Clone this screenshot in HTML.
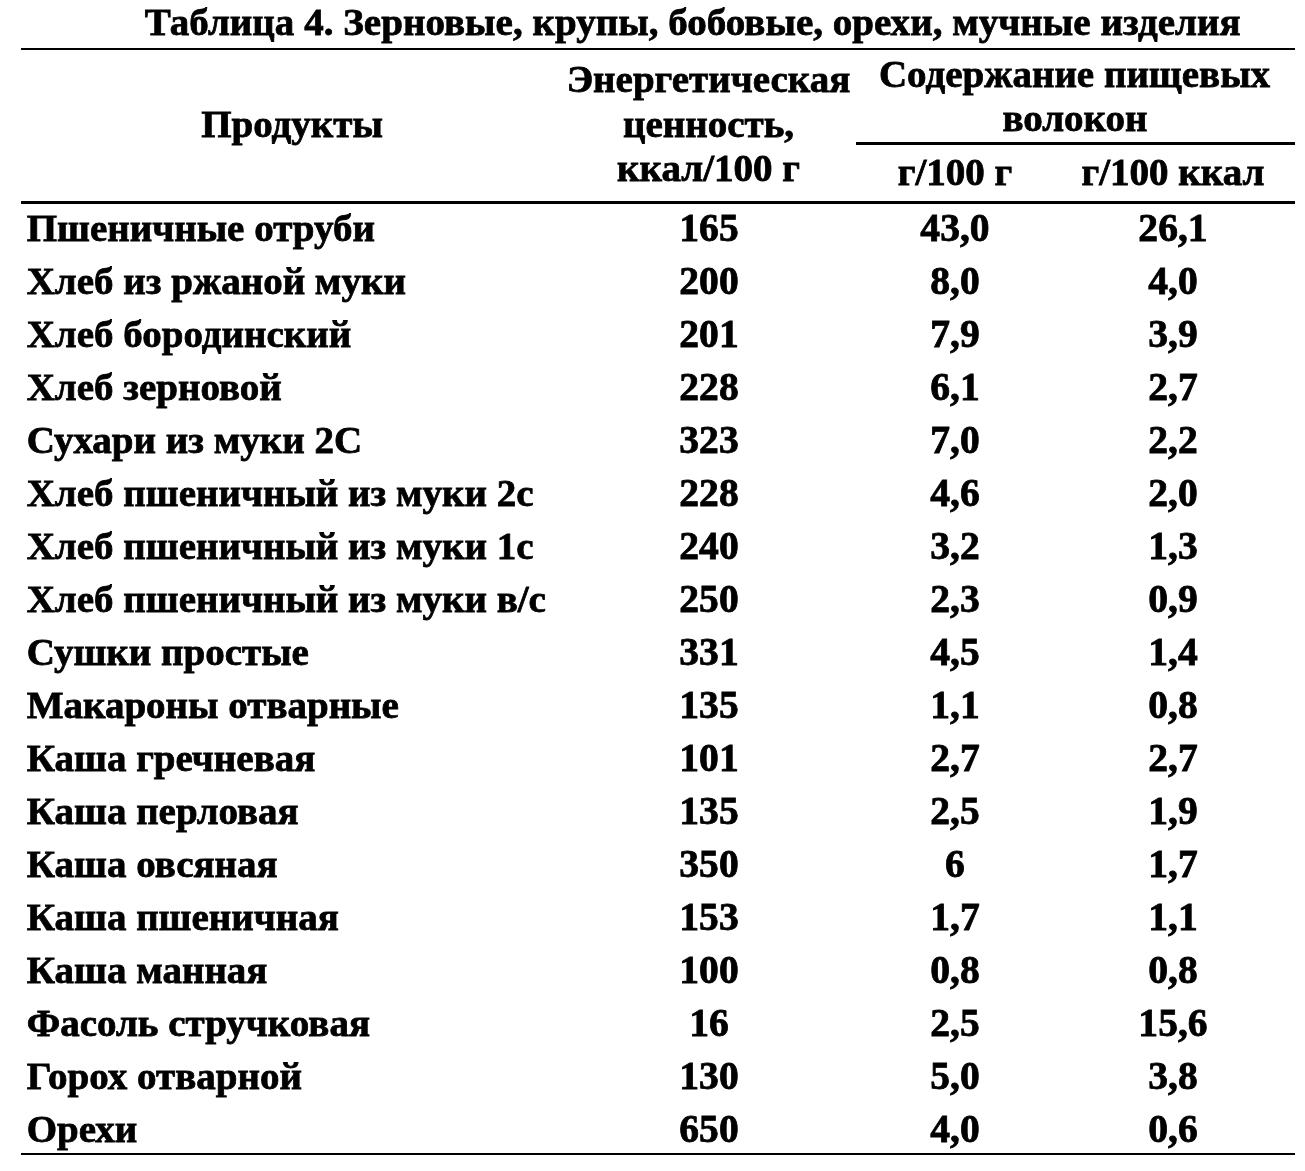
<!DOCTYPE html>
<html lang="ru">
<head>
<meta charset="utf-8">
<title>Таблица 4</title>
<style>
html,body{margin:0;padding:0;background:#fff;}
body{width:1305px;height:1171px;position:relative;overflow:hidden;font-family:"Liberation Serif","Times New Roman",serif;font-weight:bold;color:#000;}
.t{position:absolute;white-space:nowrap;line-height:50px;height:50px;font-size:39.0px;-webkit-text-stroke:0.8px #000;}
.c{text-align:center;width:1600px;margin-left:-800px;}
.r{position:absolute;background:#000;}
</style>
</head>
<body>
<div class="r" style="left:21px;top:48px;width:1274px;height:2px"></div>
<div class="r" style="left:856px;top:142px;width:439px;height:3px"></div>
<div class="r" style="left:21px;top:201px;width:1274px;height:3px"></div>
<div class="r" style="left:21px;top:1153px;width:1274px;height:2px"></div>
<div class="t c" style="left:692.70px;top:-3.26px;transform:scale(1.0,0.97);transform-origin:center 38.16px;letter-spacing:0.03px;">Таблица 4. Зерновые, крупы, бобовые, орехи, мучные изделия</div>
<div class="t c" style="left:292.00px;top:99.34px;transform:scale(1.0,0.97);transform-origin:center 38.16px;">Продукты</div>
<div class="t c" style="left:708.50px;top:53.84px;transform:scale(1.0,0.97);transform-origin:center 38.16px;">Энергетическая</div>
<div class="t c" style="left:708.50px;top:98.84px;transform:scale(1.0,0.97);transform-origin:center 38.16px;">ценность,</div>
<div class="t c" style="left:708.50px;top:142.84px;transform:scale(1.0,0.97);transform-origin:center 38.16px;">ккал/100 г</div>
<div class="t c" style="left:1074.50px;top:49.34px;transform:scale(1.0,0.97);transform-origin:center 38.16px;">Содержание пищевых</div>
<div class="t c" style="left:1075.00px;top:93.09px;transform:scale(1.0,0.97);transform-origin:center 38.16px;">волокон</div>
<div class="t c" style="left:955.00px;top:147.34px;transform:scale(1.0,0.97);transform-origin:center 38.16px;">г/100 г</div>
<div class="t c" style="left:1173.00px;top:147.34px;transform:scale(1.0,0.97);transform-origin:center 38.16px;">г/100 ккал</div>
<div class="t" style="left:26.70px;top:202.84px;transform:scale(1.0,0.97);transform-origin:left 38.16px;">Пшеничные отруби</div>
<div class="t c" style="left:708.50px;top:202.84px;transform:scale(1.015,1.02);transform-origin:center 38.16px;">165</div>
<div class="t c" style="left:955.00px;top:202.84px;transform:scale(1.015,1.02);transform-origin:center 38.16px;">43,0</div>
<div class="t c" style="left:1173.00px;top:202.84px;transform:scale(1.015,1.02);transform-origin:center 38.16px;">26,1</div>
<div class="t" style="left:26.70px;top:255.86px;transform:scale(1.0,0.97);transform-origin:left 38.16px;">Хлеб из ржаной муки</div>
<div class="t c" style="left:708.50px;top:255.86px;transform:scale(1.015,1.02);transform-origin:center 38.16px;">200</div>
<div class="t c" style="left:955.00px;top:255.86px;transform:scale(1.015,1.02);transform-origin:center 38.16px;">8,0</div>
<div class="t c" style="left:1173.00px;top:255.86px;transform:scale(1.015,1.02);transform-origin:center 38.16px;">4,0</div>
<div class="t" style="left:26.70px;top:308.88px;transform:scale(1.0,0.97);transform-origin:left 38.16px;">Хлеб бородинский</div>
<div class="t c" style="left:708.50px;top:308.88px;transform:scale(1.015,1.02);transform-origin:center 38.16px;">201</div>
<div class="t c" style="left:955.00px;top:308.88px;transform:scale(1.015,1.02);transform-origin:center 38.16px;">7,9</div>
<div class="t c" style="left:1173.00px;top:308.88px;transform:scale(1.015,1.02);transform-origin:center 38.16px;">3,9</div>
<div class="t" style="left:26.70px;top:361.91px;transform:scale(1.0,0.97);transform-origin:left 38.16px;">Хлеб зерновой</div>
<div class="t c" style="left:708.50px;top:361.91px;transform:scale(1.015,1.02);transform-origin:center 38.16px;">228</div>
<div class="t c" style="left:955.00px;top:361.91px;transform:scale(1.015,1.02);transform-origin:center 38.16px;">6,1</div>
<div class="t c" style="left:1173.00px;top:361.91px;transform:scale(1.015,1.02);transform-origin:center 38.16px;">2,7</div>
<div class="t" style="left:26.70px;top:414.93px;transform:scale(1.0,0.97);transform-origin:left 38.16px;">Сухари из муки 2С</div>
<div class="t c" style="left:708.50px;top:414.93px;transform:scale(1.015,1.02);transform-origin:center 38.16px;">323</div>
<div class="t c" style="left:955.00px;top:414.93px;transform:scale(1.015,1.02);transform-origin:center 38.16px;">7,0</div>
<div class="t c" style="left:1173.00px;top:414.93px;transform:scale(1.015,1.02);transform-origin:center 38.16px;">2,2</div>
<div class="t" style="left:26.70px;top:467.96px;transform:scale(1.0,0.97);transform-origin:left 38.16px;">Хлеб пшеничный из муки 2с</div>
<div class="t c" style="left:708.50px;top:467.96px;transform:scale(1.015,1.02);transform-origin:center 38.16px;">228</div>
<div class="t c" style="left:955.00px;top:467.96px;transform:scale(1.015,1.02);transform-origin:center 38.16px;">4,6</div>
<div class="t c" style="left:1173.00px;top:467.96px;transform:scale(1.015,1.02);transform-origin:center 38.16px;">2,0</div>
<div class="t" style="left:26.70px;top:520.98px;transform:scale(1.0,0.97);transform-origin:left 38.16px;">Хлеб пшеничный из муки 1с</div>
<div class="t c" style="left:708.50px;top:520.98px;transform:scale(1.015,1.02);transform-origin:center 38.16px;">240</div>
<div class="t c" style="left:955.00px;top:520.98px;transform:scale(1.015,1.02);transform-origin:center 38.16px;">3,2</div>
<div class="t c" style="left:1173.00px;top:520.98px;transform:scale(1.015,1.02);transform-origin:center 38.16px;">1,3</div>
<div class="t" style="left:26.70px;top:574.00px;transform:scale(1.0,0.97);transform-origin:left 38.16px;">Хлеб пшеничный из муки в/с</div>
<div class="t c" style="left:708.50px;top:574.00px;transform:scale(1.015,1.02);transform-origin:center 38.16px;">250</div>
<div class="t c" style="left:955.00px;top:574.00px;transform:scale(1.015,1.02);transform-origin:center 38.16px;">2,3</div>
<div class="t c" style="left:1173.00px;top:574.00px;transform:scale(1.015,1.02);transform-origin:center 38.16px;">0,9</div>
<div class="t" style="left:26.70px;top:627.03px;transform:scale(1.0,0.97);transform-origin:left 38.16px;">Сушки простые</div>
<div class="t c" style="left:708.50px;top:627.03px;transform:scale(1.015,1.02);transform-origin:center 38.16px;">331</div>
<div class="t c" style="left:955.00px;top:627.03px;transform:scale(1.015,1.02);transform-origin:center 38.16px;">4,5</div>
<div class="t c" style="left:1173.00px;top:627.03px;transform:scale(1.015,1.02);transform-origin:center 38.16px;">1,4</div>
<div class="t" style="left:26.70px;top:680.05px;transform:scale(1.0,0.97);transform-origin:left 38.16px;">Макароны отварные</div>
<div class="t c" style="left:708.50px;top:680.05px;transform:scale(1.015,1.02);transform-origin:center 38.16px;">135</div>
<div class="t c" style="left:955.00px;top:680.05px;transform:scale(1.015,1.02);transform-origin:center 38.16px;">1,1</div>
<div class="t c" style="left:1173.00px;top:680.05px;transform:scale(1.015,1.02);transform-origin:center 38.16px;">0,8</div>
<div class="t" style="left:26.70px;top:733.07px;transform:scale(1.0,0.97);transform-origin:left 38.16px;">Каша гречневая</div>
<div class="t c" style="left:708.50px;top:733.07px;transform:scale(1.015,1.02);transform-origin:center 38.16px;">101</div>
<div class="t c" style="left:955.00px;top:733.07px;transform:scale(1.015,1.02);transform-origin:center 38.16px;">2,7</div>
<div class="t c" style="left:1173.00px;top:733.07px;transform:scale(1.015,1.02);transform-origin:center 38.16px;">2,7</div>
<div class="t" style="left:26.70px;top:786.10px;transform:scale(1.0,0.97);transform-origin:left 38.16px;">Каша перловая</div>
<div class="t c" style="left:708.50px;top:786.10px;transform:scale(1.015,1.02);transform-origin:center 38.16px;">135</div>
<div class="t c" style="left:955.00px;top:786.10px;transform:scale(1.015,1.02);transform-origin:center 38.16px;">2,5</div>
<div class="t c" style="left:1173.00px;top:786.10px;transform:scale(1.015,1.02);transform-origin:center 38.16px;">1,9</div>
<div class="t" style="left:26.70px;top:839.12px;transform:scale(1.0,0.97);transform-origin:left 38.16px;">Каша овсяная</div>
<div class="t c" style="left:708.50px;top:839.12px;transform:scale(1.015,1.02);transform-origin:center 38.16px;">350</div>
<div class="t c" style="left:955.00px;top:839.12px;transform:scale(1.015,1.02);transform-origin:center 38.16px;">6</div>
<div class="t c" style="left:1173.00px;top:839.12px;transform:scale(1.015,1.02);transform-origin:center 38.16px;">1,7</div>
<div class="t" style="left:26.70px;top:892.14px;transform:scale(1.0,0.97);transform-origin:left 38.16px;">Каша пшеничная</div>
<div class="t c" style="left:708.50px;top:892.14px;transform:scale(1.015,1.02);transform-origin:center 38.16px;">153</div>
<div class="t c" style="left:955.00px;top:892.14px;transform:scale(1.015,1.02);transform-origin:center 38.16px;">1,7</div>
<div class="t c" style="left:1173.00px;top:892.14px;transform:scale(1.015,1.02);transform-origin:center 38.16px;">1,1</div>
<div class="t" style="left:26.70px;top:945.17px;transform:scale(1.0,0.97);transform-origin:left 38.16px;">Каша манная</div>
<div class="t c" style="left:708.50px;top:945.17px;transform:scale(1.015,1.02);transform-origin:center 38.16px;">100</div>
<div class="t c" style="left:955.00px;top:945.17px;transform:scale(1.015,1.02);transform-origin:center 38.16px;">0,8</div>
<div class="t c" style="left:1173.00px;top:945.17px;transform:scale(1.015,1.02);transform-origin:center 38.16px;">0,8</div>
<div class="t" style="left:26.70px;top:998.19px;transform:scale(1.0,0.97);transform-origin:left 38.16px;">Фасоль стручковая</div>
<div class="t c" style="left:708.50px;top:998.19px;transform:scale(1.015,1.02);transform-origin:center 38.16px;">16</div>
<div class="t c" style="left:955.00px;top:998.19px;transform:scale(1.015,1.02);transform-origin:center 38.16px;">2,5</div>
<div class="t c" style="left:1173.00px;top:998.19px;transform:scale(1.015,1.02);transform-origin:center 38.16px;">15,6</div>
<div class="t" style="left:26.70px;top:1051.21px;transform:scale(1.0,0.97);transform-origin:left 38.16px;">Горох отварной</div>
<div class="t c" style="left:708.50px;top:1051.21px;transform:scale(1.015,1.02);transform-origin:center 38.16px;">130</div>
<div class="t c" style="left:955.00px;top:1051.21px;transform:scale(1.015,1.02);transform-origin:center 38.16px;">5,0</div>
<div class="t c" style="left:1173.00px;top:1051.21px;transform:scale(1.015,1.02);transform-origin:center 38.16px;">3,8</div>
<div class="t" style="left:26.70px;top:1104.24px;transform:scale(1.0,0.97);transform-origin:left 38.16px;">Орехи</div>
<div class="t c" style="left:708.50px;top:1104.24px;transform:scale(1.015,1.02);transform-origin:center 38.16px;">650</div>
<div class="t c" style="left:955.00px;top:1104.24px;transform:scale(1.015,1.02);transform-origin:center 38.16px;">4,0</div>
<div class="t c" style="left:1173.00px;top:1104.24px;transform:scale(1.015,1.02);transform-origin:center 38.16px;">0,6</div>
</body>
</html>
